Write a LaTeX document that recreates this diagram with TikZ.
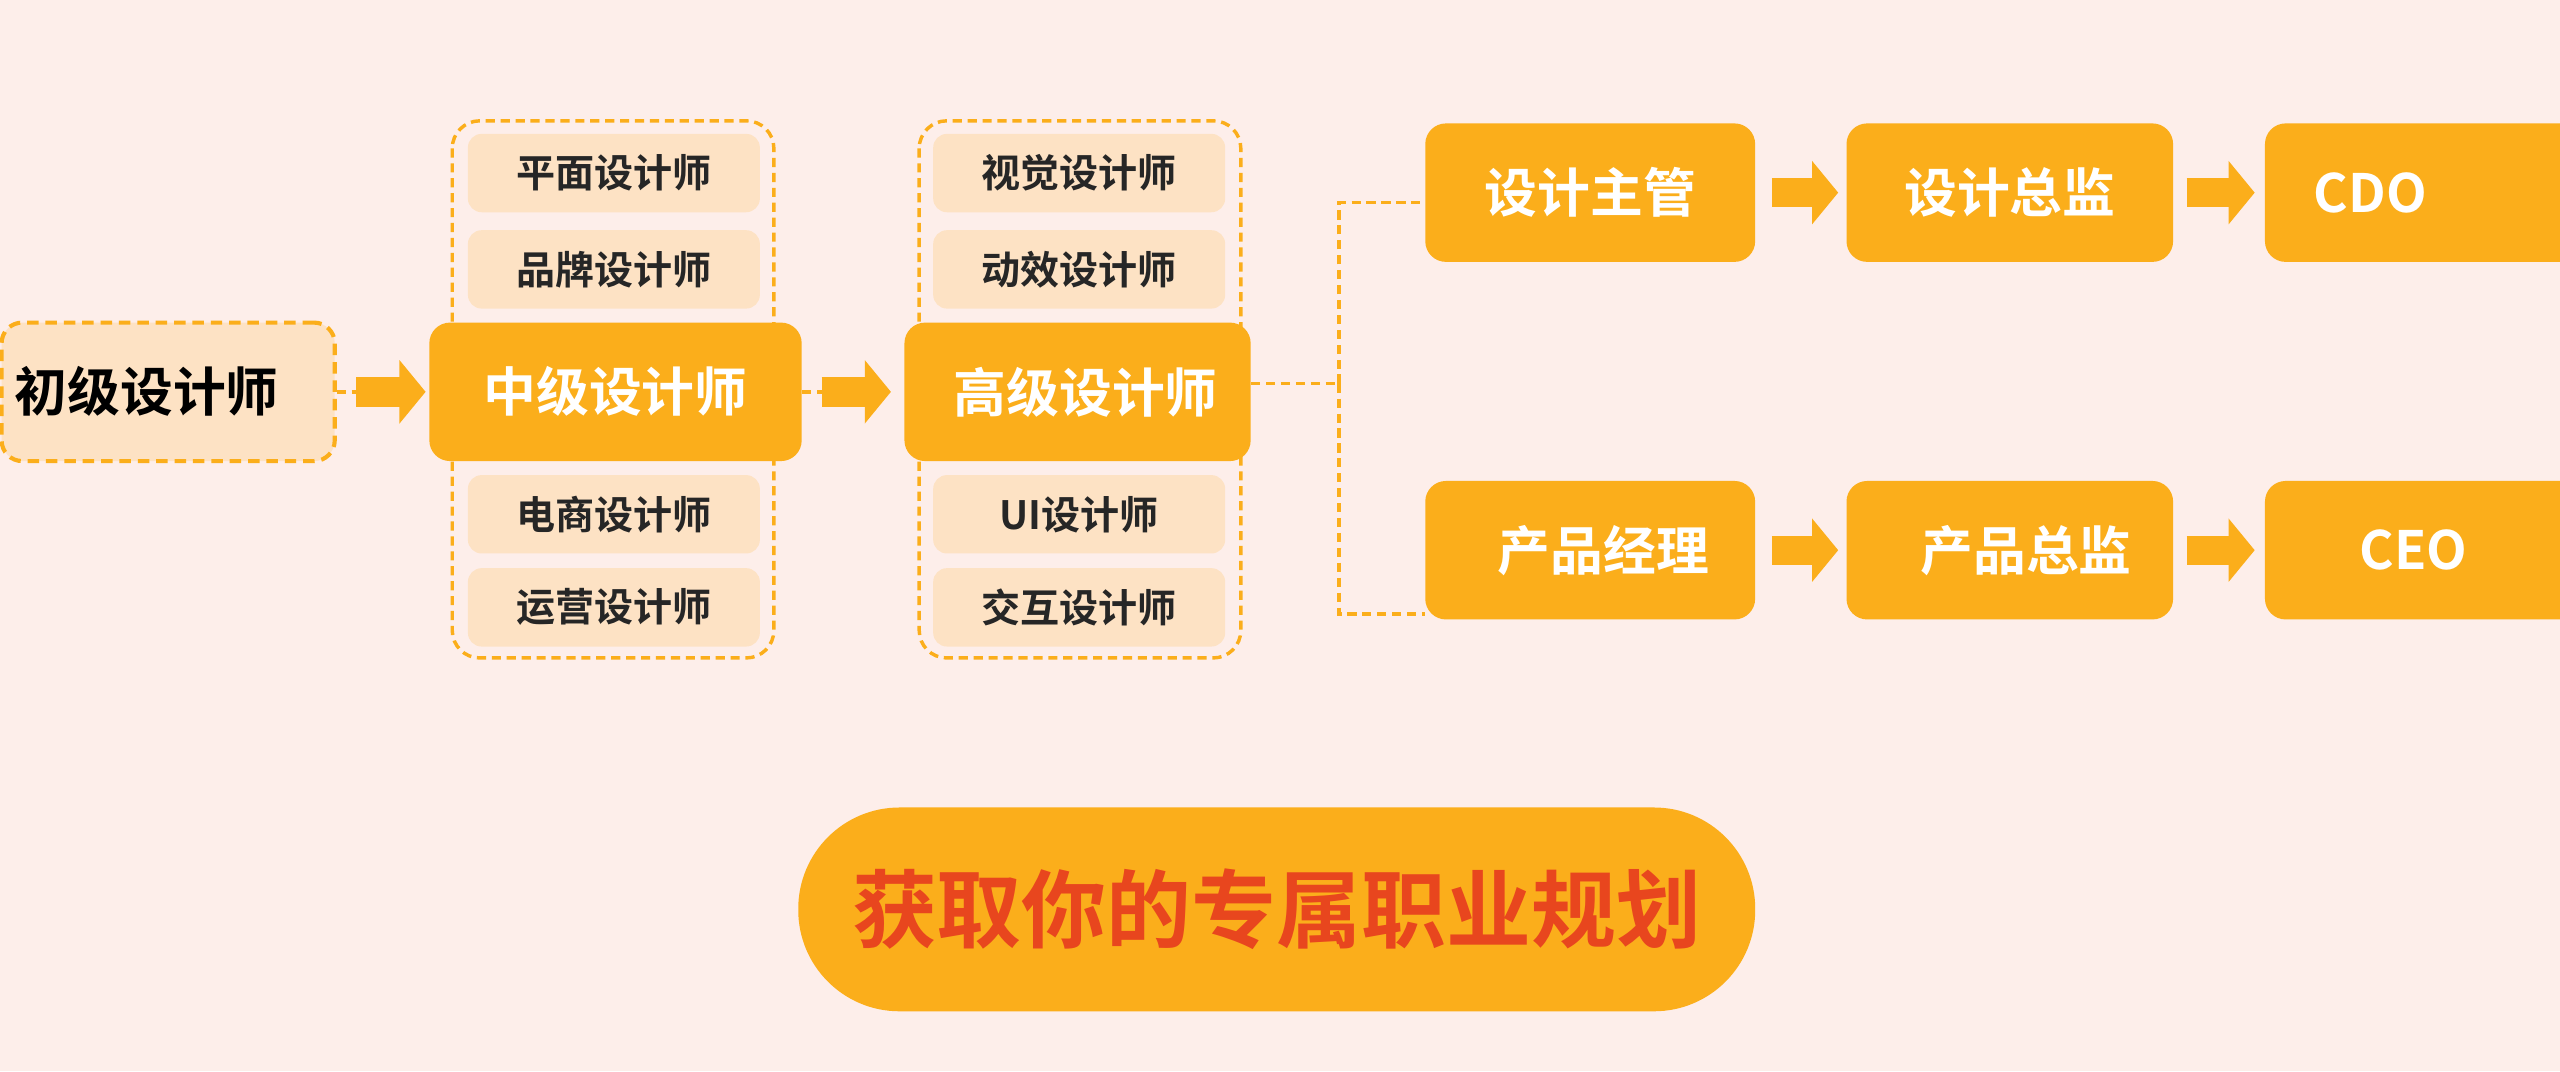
\documentclass[tikz,border=0pt]{standalone}
\usepackage{fontspec}
\setmainfont{Noto Sans CJK SC}
\newfontfamily\cjkbold{Noto Sans CJK SC Bold}
\usetikzlibrary{positioning,arrows.meta}
\definecolor{bgpink}{HTML}{FDEEEA}
\definecolor{peach}{HTML}{FDE2C4}
\definecolor{amber}{HTML}{FBAE1B}
\definecolor{redtxt}{HTML}{E8461E}
\begin{document}
\begin{tikzpicture}[x=0.025cm, y=-0.025cm,
	stage/.style={rectangle, rounded corners=9pt, fill=amber, text=white, font=\cjkbold\fontsize{23}{25}\selectfont, minimum height=2.12cm, inner sep=0pt},
	start/.style={stage, fill=peach, text=black, draw=amber, dash pattern=on 5pt off 3pt, line width=1.8pt},
	role/.style={rectangle, rounded corners=6pt, fill=peach, text=black!85, font=\cjkbold\fontsize{17}{19}\selectfont, minimum width=4.47cm, minimum height=1.2cm, inner sep=0pt},
	group/.style={draw=amber, dash pattern=on 4pt off 2.5pt, line width=1.5pt, rounded corners=12pt},
	bigarrow/.style={line width=0.45cm, amber, -{Triangle[length=0.4cm, width=0.95cm]}},
	link/.style={draw=amber, dash pattern=on 4pt off 2.5pt, line width=1.5pt}
]
\fill[bgpink] (0,0) rectangle (1568,656);
\useasboundingbox (0,0) rectangle (1568,656);
% career start
\node[start, minimum width=5.1cm, text width=4.7cm, align=left] (junior) at (103,240) {初级设计师};
% middle level
\draw[group] (277,74) rectangle (474,403);
\node[role] (flat) at (376,106) {平面设计师};
\node[role] (brand) at (376,165) {品牌设计师};
\node[stage, minimum width=5.7cm] (middle) at (377,240) {中级设计师};
\node[role] (ecom) at (376,315) {电商设计师};
\node[role] (oper) at (376,372) {运营设计师};
% senior level
\draw[group] (563,74) rectangle (760,403);
\node[role] (visual) at (661,106) {视觉设计师};
\node[role] (motion) at (661,165) {动效设计师};
\node[stage, minimum width=5.3cm] (senior) at (660,240) {\hspace*{0.25cm}高级设计师};
\node[role] (ui) at (661,315) {UI设计师};
\node[role] (inter) at (661,372) {交互设计师};
% management and product
\node[stage, minimum width=5.05cm] (lead) at (974,118) {设计主管};
\node[stage, minimum width=5.0cm] (director) at (1231,118) {设计总监};
\node[stage, minimum width=5.0cm, anchor=west, text width=4.4cm, align=left] (cdo) at (1387,118) {\hspace*{0.45cm}CDO};
\node[stage, minimum width=5.05cm] (pm) at (974,337) {\hspace*{0.4cm}产品经理};
\node[stage, minimum width=5.0cm] (pdir) at (1231,337) {\hspace*{0.5cm}产品总监};
\node[stage, minimum width=5.0cm, anchor=west, text width=4.4cm, align=left] (ceo) at (1387,337) {\hspace*{1.15cm}CEO};
\coordinate (fork) at (820,235);
\coordinate (upper) at (873,124);
\coordinate (lower) at (873,376);
\draw[link] (junior.east) -- ++(12,0);
\draw[link] (middle.east) -- ++(12,0);
\draw[link] (senior.east |- fork) -- (fork);
\draw[link] (fork) |- (upper);
\draw[link] (fork) |- (lower);
\begin{scope}
\draw[bigarrow] ([xshift=0.3cm]junior.east) -- ([xshift=-0.05cm]middle.west);
\draw[bigarrow] ([xshift=0.3cm]middle.east) -- ([xshift=-0.2cm]senior.west);
\draw[bigarrow] ([xshift=0.25cm]lead.east) -- ([xshift=-0.12cm]director.west);
\draw[bigarrow] ([xshift=0.2cm]director.east) -- ([xshift=-0.15cm]cdo.west);
\draw[bigarrow] ([xshift=0.25cm]pm.east) -- ([xshift=-0.12cm]pdir.west);
\draw[bigarrow] ([xshift=0.2cm]pdir.east) -- ([xshift=-0.15cm]ceo.west);
\end{scope}
% call to action
\node[rectangle, rounded corners=1.55cm, fill=amber, text=redtxt, font=\cjkbold\fontsize{37}{39}\selectfont, minimum width=14.65cm, minimum height=3.12cm] (plan) at (782,557) {获取你的专属职业规划};
\end{tikzpicture}
\end{document}
